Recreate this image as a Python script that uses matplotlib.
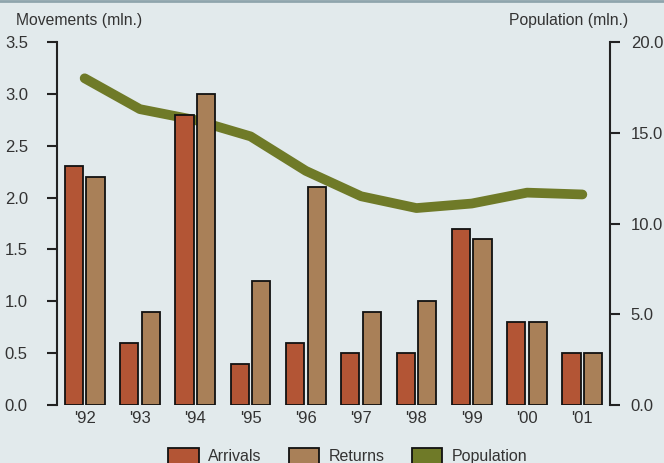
import matplotlib
matplotlib.use("Agg")
import matplotlib.pyplot as plt
from matplotlib.patches import Patch
from matplotlib import font_manager

names = {f.name for f in font_manager.fontManager.ttflist}
fam = "Liberation Sans Narrow" if "Liberation Sans Narrow" in names else "Liberation Sans"
plt.rcParams['font.family'] = [fam, 'DejaVu Sans']

years = ["'92", "'93", "'94", "'95", "'96", "'97", "'98", "'99", "'00", "'01"]
arrivals = [2.3, 0.6, 2.8, 0.4, 0.6, 0.5, 0.5, 1.7, 0.8, 0.5]
returns = [2.2, 0.9, 3.0, 1.2, 2.1, 0.9, 1.0, 1.6, 0.8, 0.5]
population = [18.0, 16.3, 15.7, 14.8, 12.9, 11.5, 10.85, 11.1, 11.7, 11.6]

bg = '#e2eaec'
c_arr = '#b35535'
c_ret = '#a98058'
c_pop = '#6f7a28'
tc = '#333333'

fig = plt.figure(figsize=(6.64, 4.63), dpi=100, facecolor=bg)
ax = fig.add_axes([57/664, 58/463, 553/664, 363/463], facecolor=bg)
ax2 = ax.twinx()

x = list(range(len(years)))
w = 0.33
off = 0.195
ax.bar([i - off for i in x], arrivals, width=w, color=c_arr, edgecolor='#111111', linewidth=1.3, zorder=2)
ax.bar([i + off for i in x], returns, width=w, color=c_ret, edgecolor='#111111', linewidth=1.3, zorder=2)
ax2.plot(x, population, color=c_pop, linewidth=7, solid_capstyle='round', solid_joinstyle='round', zorder=3)

ax.set_xlim(-0.5, 9.5)
ax.set_ylim(0, 3.5)
ax2.set_ylim(0, 20)
ax.set_yticks([0, 0.5, 1.0, 1.5, 2.0, 2.5, 3.0, 3.5])
ax.set_yticklabels([f"{v:.1f}" for v in [0, 0.5, 1.0, 1.5, 2.0, 2.5, 3.0, 3.5]])
ax2.set_yticks([0, 5, 10, 15, 20])
ax2.set_yticklabels([f"{v:.1f}" for v in [0, 5, 10, 15, 20]])
ax.set_xticks(x)
ax.set_xticklabels(years)

for a in (ax, ax2):
    for s in ['top', 'bottom']:
        a.spines[s].set_visible(False)
    a.patch.set_visible(False)
ax.spines['right'].set_visible(False)
ax2.spines['left'].set_visible(False)
ax.spines['left'].set_color('#222222')
ax.spines['left'].set_linewidth(1.5)
ax2.spines['right'].set_color('#222222')
ax2.spines['right'].set_linewidth(1.5)
ax2.set_zorder(2)
ax.set_zorder(3)

ax.tick_params(axis='y', direction='out', length=7, width=1.5, color='#222222', labelsize=12, labelcolor=tc, pad=14)
ax2.tick_params(axis='y', direction='out', length=7, width=1.5, color='#222222', labelsize=12, labelcolor=tc, pad=8)
ax.tick_params(axis='x', length=0, labelsize=12, labelcolor=tc, pad=4)

fig.text(16/664, 1 - 20/463, "Movements (mln.)", fontsize=11.3, color=tc, va='center', ha='left')
fig.text(628/664, 1 - 20/463, "Population (mln.)", fontsize=11.3, color=tc, va='center', ha='right')

handles = [Patch(facecolor=c_arr, edgecolor='#111111', linewidth=1.3, label='Arrivals'),
           Patch(facecolor=c_ret, edgecolor='#111111', linewidth=1.3, label='Returns'),
           Patch(facecolor=c_pop, edgecolor='#111111', linewidth=1.3, label='Population')]
fig.legend(handles=handles, loc='center', bbox_to_anchor=(348/664, 1 - 456/463), ncol=3,
           frameon=False, fontsize=11.5, handlelength=1.9, handleheight=1.2, columnspacing=1.7,
           handletextpad=0.6, labelcolor=tc)

fig.add_artist(plt.Line2D([0, 1], [0.997, 0.997], color='#8fa5ad', linewidth=2, transform=fig.transFigure))

fig.savefig('out.png', dpi=100, facecolor=bg)
